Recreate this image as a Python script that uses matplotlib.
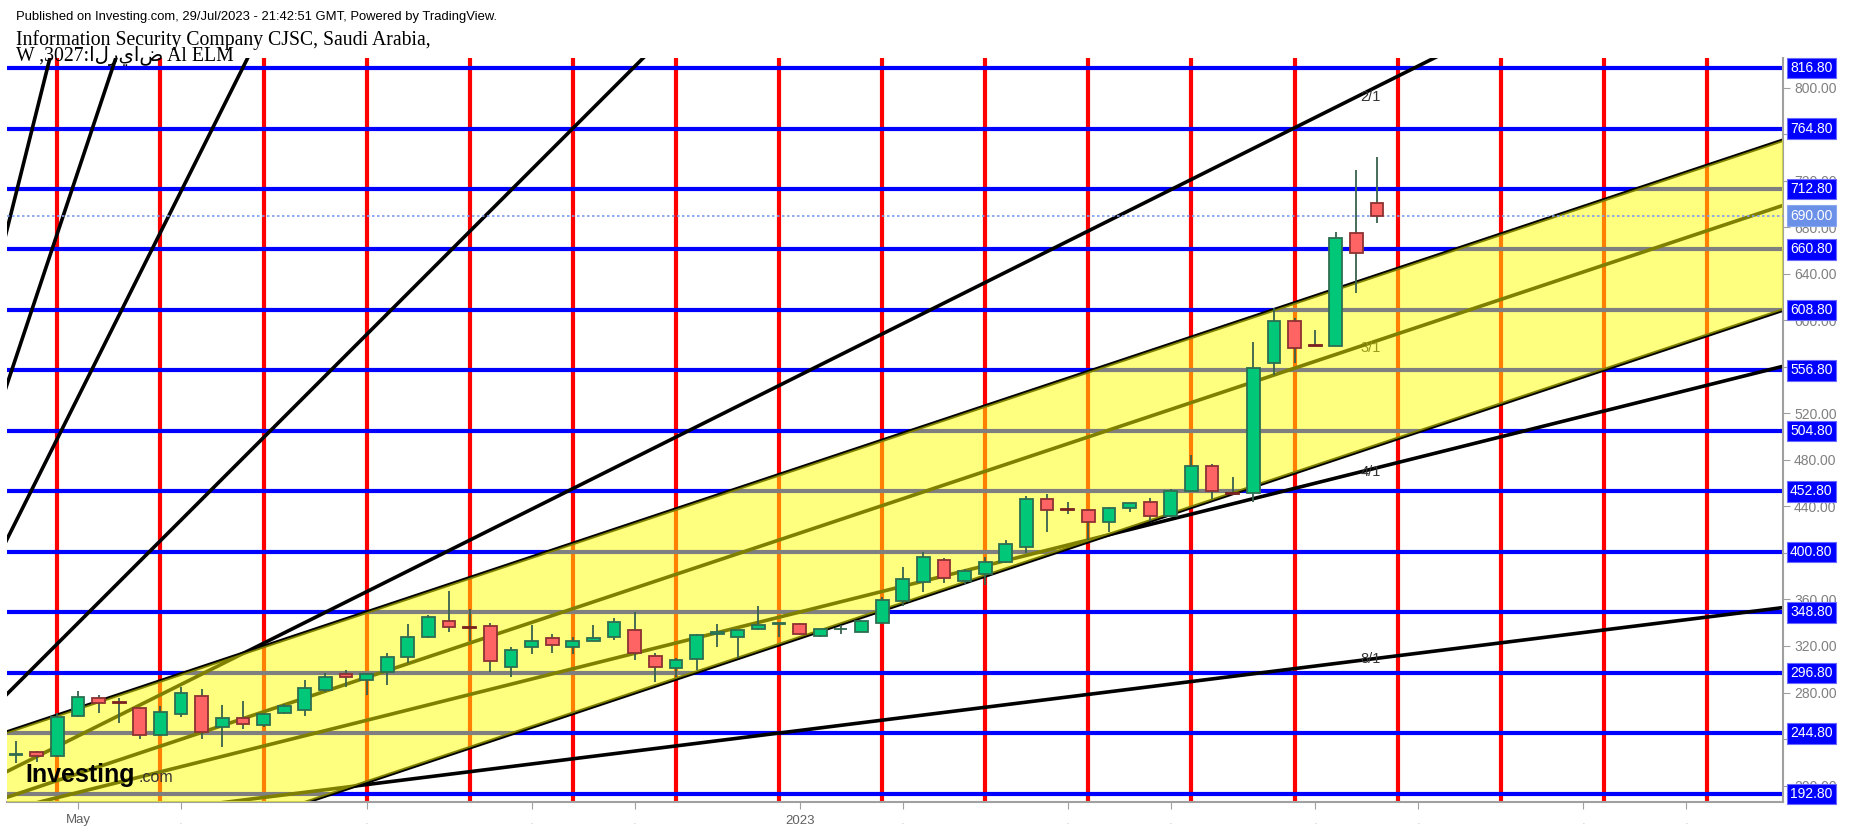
import numpy as np
import matplotlib.pyplot as plt
import matplotlib.transforms as mtrans

plt.rcParams['font.family'] = ['Liberation Sans', 'DejaVu Sans']

# weekly candles, index 0 = first visible bar
opens = [226.0, 228.6, 225.5, 260.0, 275.0, 271.5, 266.5, 243.5, 261.6, 277.0,
         250.0, 258.0, 252.4, 262.2, 265.0, 282.2, 295.7, 290.8, 297.4, 310.3,
         327.5, 341.5, 336.5, 337.5, 301.7, 318.9, 326.6, 318.9, 324.0, 327.5,
         333.8, 311.4, 301.0, 308.6, 330.1, 327.5, 334.4, 339.3, 338.9, 328.9,
         334.4, 332.4, 340.1, 358.7, 374.8, 393.9, 375.9, 381.6, 391.9, 404.9,
         446.1, 437.8, 436.9, 426.3, 438.4, 443.5, 432.1, 453.2, 474.7, 451.0,
         451.3, 563.0, 599.3, 578.7, 577.9, 674.7, 700.5]
highs = [238.0, 229.5, 262.0, 281.0, 278.0, 275.0, 267.0, 268.0, 285.0, 283.0,
         269.0, 273.0, 262.7, 270.0, 291.0, 296.6, 299.4, 296.6, 313.7, 339.0,
         346.7, 367.6, 351.6, 339.5, 319.5, 338.0, 330.3, 328.0, 338.0, 343.8,
         349.6, 314.3, 309.5, 330.0, 339.0, 334.0, 354.0, 341.0, 339.5, 335.0,
         338.0, 342.0, 362.4, 388.0, 401.0, 395.4, 386.0, 396.8, 411.0, 449.0,
         450.7, 444.0, 437.5, 439.8, 443.0, 447.0, 455.0, 484.2, 476.4, 465.5,
         581.6, 610.3, 601.8, 591.6, 676.0, 729.0, 740.6]
lows = [219.0, 220.5, 225.0, 259.0, 262.0, 254.0, 240.0, 243.0, 258.7, 240.0,
        233.0, 248.7, 250.7, 261.6, 260.0, 280.8, 285.0, 278.0, 286.5, 305.0,
        326.6, 332.4, 324.6, 298.0, 293.6, 313.0, 314.3, 313.0, 324.0, 325.2,
        308.0, 288.8, 293.0, 299.4, 319.0, 309.5, 333.8, 328.0, 329.5, 327.5,
        330.0, 332.0, 339.5, 354.0, 366.7, 374.5, 373.3, 372.4, 391.0, 400.2,
        418.3, 433.5, 411.0, 418.3, 435.5, 427.7, 431.0, 453.0, 446.0, 450.0,
        444.0, 553.0, 563.0, 578.0, 577.5, 623.7, 684.0]
closes = [227.0, 225.5, 258.7, 276.0, 270.8, 271.0, 243.5, 263.0, 279.3, 246.4,
          258.0, 252.7, 261.3, 268.0, 283.7, 293.0, 293.0, 295.7, 310.3, 327.5,
          344.7, 336.0, 336.0, 307.0, 316.6, 324.3, 320.8, 324.3, 326.6, 340.4,
          313.8, 301.7, 308.0, 329.5, 331.8, 333.8, 338.4, 339.6, 330.1, 334.6,
          334.8, 341.5, 359.6, 377.3, 396.3, 378.2, 384.5, 391.9, 407.4, 446.1,
          436.9, 437.3, 426.3, 438.4, 442.7, 431.8, 453.2, 474.7, 453.2, 450.5,
          558.7, 599.3, 575.9, 578.3, 670.4, 657.5, 690.0]

# gann box grid
h_levels = [192.8, 244.8, 296.8, 348.8, 400.8, 452.8, 504.8, 556.8,
            608.8, 660.8, 712.8, 764.8, 816.8]
v_lines = [2, 7, 12, 17, 22, 27, 32, 37, 42, 47, 52, 57, 62, 67, 72, 77, 82]

# gann fan: origin and 1x1 slope (price per bar)
fan_x0, fan_p0, fan_slope = -7.95, 145.6, 17.72
fan_ratios = [8, 4, 3, 2, 1, 1 / 2, 1 / 3, 1 / 4, 1 / 8]
fan_labels = {'2/1': 791.5, '3/1': 576.1, '4/1': 469.5, '8/1': 308.5}

# channel edges (offsets from the 3/1 line)
chan_up, chan_dn = 56.1, -90.0

y_ticks = list(range(200, 801, 40))
x_ticks = [3, 8, 17, 25, 30, 38, 43, 51, 56, 63, 68, 76, 81]
x_labels = ['May', '.', '.', '.', '.', '2023', '.', '.', '.', '.', '.', '.', '.']
last_price = 690.0

fig = plt.figure(figsize=(18.54, 8.31), dpi=100)
ax = fig.add_axes([7 / 1854, 29 / 831, 1776 / 1854, 744 / 831])
ax.set_xlim(-0.44, 85.69)
ax.set_ylim(185.9, 825.4)

for lv in h_levels:
    ax.axhline(lv, color='#0000ff', lw=3, zorder=1.2)
for vx in v_lines:
    ax.axvline(vx, color='#ff0000', lw=3, zorder=1.1)

xs = np.array([fan_x0, 90.0])
for r in fan_ratios:
    ax.plot(xs, fan_p0 + fan_slope * r * (xs - fan_x0), color='black', lw=2.6,
            zorder=2, solid_capstyle='butt')
for name, py in fan_labels.items():
    ax.text(65.7, py, name, fontsize=10.5, color='#333333', ha='center',
            va='center', zorder=2.5)

# parallel channel
cx = np.array([-2.0, 90.0])
mid = fan_p0 + fan_slope / 3 * (cx - fan_x0)
ax.fill_between(cx, mid + chan_dn, mid + chan_up, color='#ffff00', alpha=0.5,
                lw=0, zorder=3)
ax.plot(cx, mid + chan_up, color='black', lw=2.6, zorder=2.2)
ax.plot(cx, mid + chan_dn, color='black', lw=2.6, zorder=2.2)

ax.axhline(last_price, color='#7b9cf0', lw=1.2, ls=(0, (1.5, 1.5)), zorder=3.6)

# candles
for i in range(len(opens)):
    o, h, l, c = opens[i], highs[i], lows[i], closes[i]
    up = c >= o
    doji = abs(c - o) < 1.5
    if doji:
        fc = '#2e6b4f' if up else '#7a2020'
        ec = fc
        body_bottom, body_h = (o + c) / 2 - 0.4, 0.8
    else:
        fc = '#00c878' if up else '#ff6464'
        ec = '#2e6e52' if up else '#8c3232'
        body_bottom, body_h = o, c - o
    ax.vlines(i, l, h, color='#38614d', lw=1.3, zorder=4)
    ax.bar(i, body_h, bottom=body_bottom, width=0.62, color=fc, edgecolor=ec,
           lw=1.3, zorder=5)

# axes styling
for s in ['top', 'left']:
    ax.spines[s].set_visible(False)
for s in ['right', 'bottom']:
    ax.spines[s].set_color('#a0a0a0')
    ax.spines[s].set_linewidth(1.5)
ax.yaxis.tick_right()
ax.set_yticks(y_ticks)
ax.set_yticklabels([f'{v:.2f}' for v in y_ticks])
ax.tick_params(axis='y', colors='#a0a0a0', labelcolor='#808080', labelsize=10,
               length=5, pad=3)
ax.set_xticks(x_ticks)
ax.set_xticklabels(x_labels)
ax.tick_params(axis='x', colors='#a0a0a0', labelcolor='#606060', labelsize=9.5,
               length=5, pad=4)
for t in ax.get_xticklabels():
    if t.get_text() == '.':
        t.set_color('#c8c8c8')

bt = mtrans.blended_transform_factory(ax.transAxes, ax.transData)
for lv in h_levels:
    ax.text(1.0, lv, f'{lv:.2f}', transform=mtrans.offset_copy(bt, fig, x=7, units='dots'),
            ha='left', va='center', color='white', fontsize=10, zorder=10, clip_on=False,
            bbox=dict(boxstyle='square,pad=0.25', fc='#0000ff', ec='#6a6aff', lw=0.8))
ax.text(1.0, last_price, f'{last_price:.2f}',
        transform=mtrans.offset_copy(bt, fig, x=7, units='dots'),
        ha='left', va='center', color='white', fontsize=10, zorder=11, clip_on=False,
        bbox=dict(boxstyle='square,pad=0.25', fc='#6a90e8', ec='#8aa8f0', lw=0.8))

# header
fig.text(16 / 1854, 1 - 17 / 831,
         'Published on Investing.com, 29/Jul/2023 - 21:42:51 GMT, Powered by TradingView.',
         fontsize=9.4, color='black', va='center')
fig.text(16 / 1854, 1 - 40 / 831, 'Information Security Company CJSC, Saudi Arabia,',
         fontsize=14.2, family=['Liberation Serif', 'DejaVu Sans'], va='center')
fig.text(16 / 1854, 1 - 56 / 831, 'W ,3027:الرياض Al ELM',
         fontsize=14.2, family=['Liberation Serif', 'DejaVu Sans'], va='center')

# watermark
fig.text(25 / 1854, 1 - 775 / 831, 'Investing', fontsize=18, weight='bold',
         color='black', va='center')
fig.text(139 / 1854, 1 - 778 / 831, '.com', fontsize=11.5, color='#333333', va='center')

fig.savefig('out.png', dpi=100)
